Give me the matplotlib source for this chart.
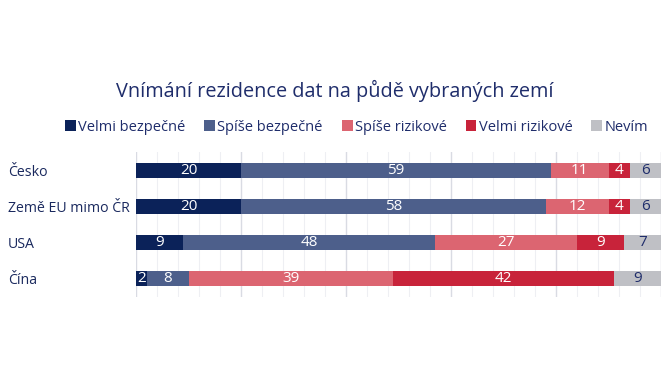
import numpy as np
import matplotlib.pyplot as plt
from matplotlib.patches import Patch

plt.rcParams['font.family'] = ['Open Sans', 'DejaVu Sans']

countries = ["Česko", "Země EU mimo ČR", "USA", "Čína"]
series_names = ["Velmi bezpečné", "Spíše bezpečné", "Spíše rizikové", "Velmi rizikové", "Nevím"]
velmi_bezpecne = [20, 20, 9, 2]
spise_bezpecne = [59, 58, 48, 8]
spise_rizikove = [11, 12, 27, 39]
velmi_rizikove = [4, 4, 9, 42]
nevim = [6, 6, 7, 9]

colors = ["#0b2259", "#4d5f8b", "#dc6571", "#c8233a", "#bfc0c5"]
text_colors = ["white", "white", "white", "white", "#1f2d6b"]
navy = "#1f2d6b"

fig = plt.figure(figsize=(6.7, 3.77), dpi=100)
ax = fig.add_axes([0.203, 0.212, 0.7836, 0.385])

data = [velmi_bezpecne, spise_bezpecne, spise_rizikove, velmi_rizikove, nevim]
y = np.arange(len(countries))
left = np.zeros(len(countries))
for vals, col, tc in zip(data, colors, text_colors):
    vals = np.array(vals, dtype=float)
    ax.barh(y, vals, left=left, height=0.41, color=col, zorder=3)
    for yi, l, v in zip(y, left, vals):
        ax.text(l + v / 2, yi, str(int(v)), ha="center", va="center",
                color=tc, fontsize=11, zorder=4)
    left += vals

ax.set_xlim(0, 100)
ax.set_ylim(3.5, -0.5)
ax.set_xticks(np.arange(0, 101, 20))
ax.set_xticks(np.arange(0, 101, 4), minor=True)
ax.grid(axis="x", which="major", color="#d9dbe3", linewidth=1.0, zorder=0)
ax.grid(axis="x", which="minor", color="#eeeff3", linewidth=0.8, zorder=0)
ax.tick_params(axis="x", which="both", length=0, labelbottom=False)
ax.tick_params(axis="y", length=0, labelsize=10.2, labelcolor="#1a295e", pad=92)
ax.set_yticks(y)
ax.set_yticklabels(countries, ha="left")
for s in ax.spines.values():
    s.set_visible(False)

fig.text(0.5, 0.758, "Vnímání rezidence dat na půdě vybraných zemí",
         ha="center", va="center", fontsize=14.3, color=navy)

handles = [Patch(facecolor=c, edgecolor="none") for c in colors]
fig.legend(handles, series_names, loc="center", bbox_to_anchor=(0.532, 0.662),
           ncol=5, frameon=False, fontsize=10.5, labelcolor=navy,
           handlelength=0.75, handleheight=0.75, handletextpad=0.15,
           columnspacing=1.3)

fig.savefig("out.png", dpi=100, facecolor="white")
